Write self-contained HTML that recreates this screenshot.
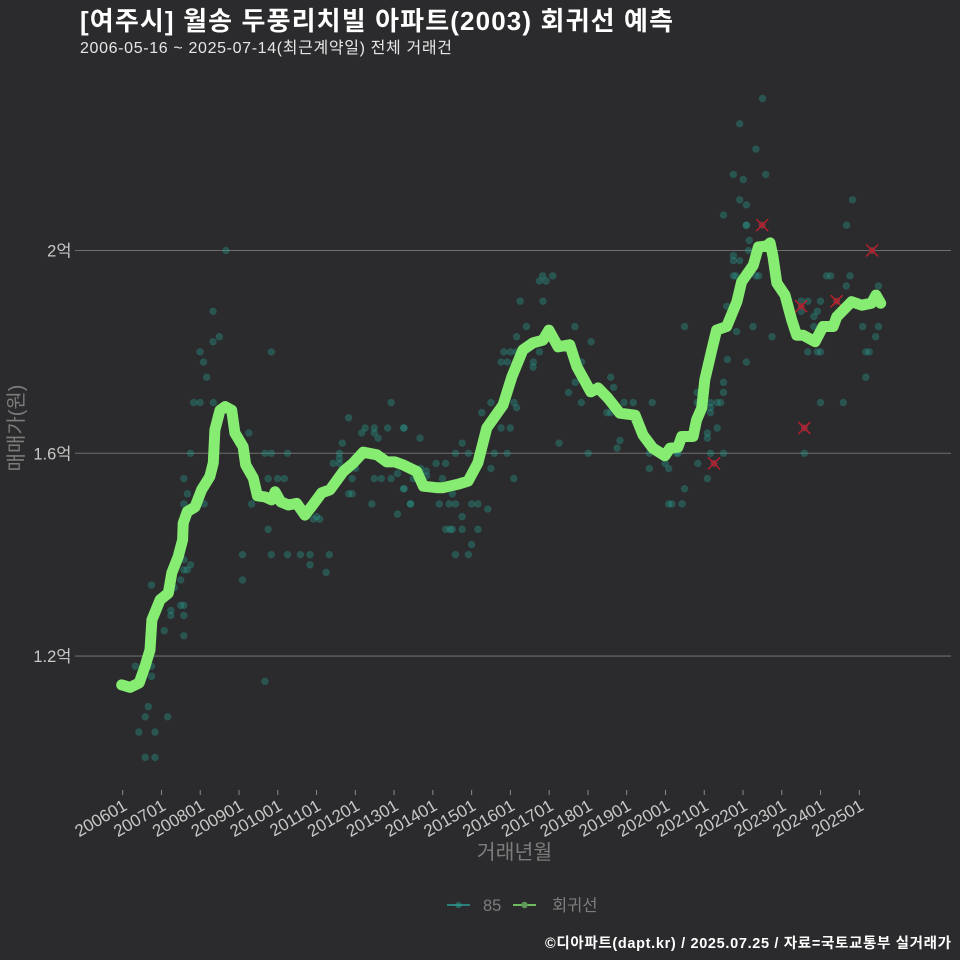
<!DOCTYPE html>
<html lang="ko">
<head>
<meta charset="utf-8">
<title>월송 두풍리치빌 아파트 회귀선 예측</title>
<style>
html,body{margin:0;padding:0;background:#2b2b2d;}
svg{display:block;}
text{font-family:"Liberation Sans","Noto Sans CJK KR",sans-serif;}
</style>
</head>
<body>
<svg id="chart" xmlns="http://www.w3.org/2000/svg" width="960" height="960" viewBox="0 0 960 960">
<rect x="0" y="0" width="960" height="960" fill="#2b2b2d"/>
<g id="grid"></g>
<g id="yticks"></g>
<g id="xticks"></g>
<g id="points"></g>
<g id="outliers"></g>
<path id="regline" fill="none" stroke="#86ec72" stroke-width="11" stroke-linejoin="round" stroke-linecap="round"/>
<text x="80" y="30" font-size="26" font-weight="700" fill="#ffffff" textLength="593" lengthAdjust="spacing">[여주시] 월송 두풍리치빌 아파트(2003) 회귀선 예측</text>
<text x="80" y="53" font-size="16" fill="#e6e6e6" textLength="372" lengthAdjust="spacing">2006-05-16 ~ 2025-07-14(최근계약일) 전체 거래건</text>
<text transform="translate(23,428) rotate(-90)" text-anchor="middle" font-size="20" fill="#7c7c7c">매매가(원)</text>
<text x="514.5" y="859" text-anchor="middle" font-size="20.5" fill="#7c7c7c">거래년월</text>
<g>
<line x1="447" y1="905" x2="470" y2="905" stroke="#2a9d97" stroke-width="1.6"/>
<circle cx="458.5" cy="905" r="3.2" fill="#2a9d8f" fill-opacity="0.5"/>
<text x="483" y="911" font-size="16.5" fill="#7c7c7c">85</text>
<line x1="513" y1="905" x2="536" y2="905" stroke="#86ec72" stroke-width="1.6"/>
<circle cx="524.5" cy="905" r="3.2" fill="#5f9a5a"/>
<text x="552" y="911" font-size="16.5" fill="#7c7c7c">회귀선</text>
</g>
<text x="545" y="948" font-size="14.5" font-weight="700" fill="#ffffff" textLength="406" lengthAdjust="spacing">©디아파트(dapt.kr) / 2025.07.25 / 자료=국토교통부 실거래가</text>
</svg>
<script>
const tickLabels = ['200601','200701','200801','200901','201001','201101','201201','201301','201401','201501','201601','201701','201801','201901','202001','202101','202201','202301','202401','202501'];
const yTickValues = [2, 1.6, 1.2];
const yTickLabels = ['2억', '1.6억', '1.2억'];

const lineMonths = [-0.3,2.3,5.2,7.0,8.6,9.2,11.8,14.4,15.5,17.5,18.9,19.1,20.4,22.8,24.9,27.5,28.6,29.1,30.7,32.3,34.4,35.4,38.0,38.8,41.2,42.5,44.9,47.0,48.1,49.9,52.3,54.9,57.5,59.6,62.8,65.4,69.6,72.8,75.9,80.2,83.3,85.9,88.5,92.8,94.9,99.1,101.1,105.8,109.0,112.1,114.9,120.0,122.8,126.3,129.5,132.6,134.5,137.4,141.1,143.3,147.7,150.0,153.1,156.9,161.7,164.2,167.3,171.1,172.7,175.2,176.4,180.0,181.1,182.7,183.7,185.9,187.4,190.6,193.8,195.3,199.0,200.6,203.2,204.3,205.2,206.4,209.0,211.1,212.7,214.7,218.5,221.0,224.2,225.3,230.0,233.2,236.3,237.7,239.2];
const linePrices = [1.143,1.138,1.147,1.179,1.212,1.271,1.311,1.324,1.364,1.396,1.429,1.462,1.485,1.494,1.528,1.554,1.581,1.646,1.685,1.692,1.685,1.640,1.613,1.577,1.551,1.516,1.514,1.508,1.524,1.504,1.498,1.501,1.478,1.495,1.522,1.528,1.564,1.581,1.602,1.597,1.583,1.583,1.577,1.564,1.535,1.532,1.532,1.539,1.545,1.581,1.650,1.695,1.751,1.804,1.818,1.823,1.843,1.810,1.814,1.771,1.721,1.729,1.709,1.679,1.675,1.636,1.610,1.595,1.610,1.612,1.633,1.633,1.666,1.689,1.745,1.804,1.843,1.850,1.899,1.938,1.971,2.007,2.009,2.015,1.988,1.936,1.912,1.863,1.833,1.833,1.820,1.850,1.850,1.869,1.899,1.892,1.896,1.912,1.896];

const pointMonths = [4.0,9.1,9.1,8.1,7.1,14.2,5.1,10.2,7.1,10.2,13.1,19.3,15.2,15.2,19.3,18.3,19.3,18.3,16.3,9.1,19.3,20.4,21.4,19.3,19.3,20.4,19.3,25.7,21.4,22.4,24.4,28.6,39.8,44.9,46.9,52.0,45.9,48.9,51.0,40.7,45.9,37.8,46.9,52.0,56.1,59.1,65.2,59.1,64.2,37.8,44.9,60.2,61.2,62.2,84.7,71.3,76.5,75.4,79.4,79.4,80.6,83.6,88.6,69.3,68.4,68.4,66.4,68.4,73.5,72.4,79.4,81.6,84.7,86.7,88.6,71.3,72.4,78.6,90.8,86.7,92.8,28.5,30.5,28.5,24.4,25.5,26.5,46.9,32.6,132.5,131.5,133.6,135.7,125.4,132.6,127.4,124.3,120.3,122.4,124.3,131.5,119.4,121.4,129.6,129.5,142.7,147.8,144.8,154.0,154.9,142.8,140.7,144.7,123.5,124.3,116.2,113.3,119.4,122.3,88.8,93.8,107.1,137.7,105.0,109.1,117.3,121.3,146.9,98.9,101.9,116.2,123.4,94.0,95.8,91.7,95.9,100.9,88.8,104.0,90.8,99.9,103.0,105.0,110.1,112.1,115.2,107.1,101.9,103.3,104.0,107.1,112.1,110.1,105.0,109.1,152.8,154.0,158.2,161.1,167.1,156.9,156.0,166.2,166.2,172.3,171.2,177.3,172.3,173.3,176.5,177.3,174.8,201.9,194.7,199.8,192.7,202.9,195.8,194.7,196.8,189.6,196.8,196.8,197.7,197.5,192.7,192.7,194.7,192.7,193.5,199.8,200.7,190.6,193.7,198.9,204.9,190.8,196.8,189.6,189.6,181.3,181.3,185.5,187.6,188.7,185.5,185.5,187.6,184.5,184.5,185.5,189.6,175.3,181.5,184.5,230.3,228.4,222.1,223.4,229.5,228.3,238.5,214.1,216.2,220.2,214.1,219.2,218.1,218.1,233.5,238.5,237.6,216.2,219.2,220.2,234.5,235.6,234.5,220.2,227.4,215.1];
const pointPrices = [1.18,1.18,1.16,1.10,1.08,1.08,1.05,1.05,1.00,1.00,1.25,1.24,1.29,1.28,1.28,1.30,1.30,1.35,1.335,1.34,1.37,1.37,1.38,1.39,1.50,1.52,1.55,1.50,1.60,1.70,1.70,1.70,1.64,1.60,1.60,1.60,1.55,1.55,1.55,1.50,1.45,1.40,1.40,1.40,1.40,1.40,1.40,1.38,1.365,1.35,1.15,1.47,1.475,1.47,1.70,1.67,1.65,1.64,1.65,1.64,1.63,1.65,1.65,1.62,1.60,1.59,1.58,1.58,1.57,1.55,1.55,1.55,1.55,1.56,1.53,1.52,1.52,1.50,1.50,1.48,1.55,1.88,1.83,1.82,1.80,1.78,1.75,1.80,2.00,1.95,1.94,1.94,1.95,1.90,1.90,1.85,1.83,1.80,1.80,1.80,1.80,1.78,1.78,1.78,1.77,1.85,1.82,1.78,1.75,1.73,1.74,1.72,1.70,1.70,1.69,1.70,1.68,1.65,1.65,1.65,1.63,1.62,1.62,1.60,1.60,1.60,1.60,1.60,1.58,1.58,1.57,1.55,1.57,1.565,1.55,1.555,1.55,1.53,1.52,1.50,1.50,1.50,1.50,1.50,1.50,1.49,1.475,1.45,1.45,1.45,1.45,1.45,1.42,1.40,1.40,1.68,1.68,1.70,1.70,1.70,1.625,1.61,1.60,1.57,1.57,1.58,1.53,1.50,1.50,1.50,1.85,1.60,2.30,2.25,2.20,2.15,2.15,2.14,2.10,2.09,2.07,2.05,2.05,2.02,2.00,1.99,1.98,1.98,1.95,1.95,1.95,1.95,1.89,1.84,1.85,1.83,1.785,1.78,1.74,1.72,1.72,1.70,1.70,1.70,1.70,1.69,1.68,1.65,1.64,1.63,1.60,1.60,1.60,1.58,1.55,2.10,2.05,1.95,1.95,1.95,1.93,1.93,1.90,1.90,1.90,1.88,1.88,1.87,1.85,1.85,1.85,1.83,1.80,1.80,1.80,1.80,1.80,1.75,1.70,1.70,1.60];

const outlierMonths = [201.8,236.5,214.1,225.3,215.1,186.6];
const outlierPrices = [2.05,2.00,1.89,1.90,1.65,1.58];

const NS = 'http://www.w3.org/2000/svg';
const unitsPerTick = 12.234;
function xScale(month) { return 122.7 + month * 3.169; }
function yScale(price) { return 250.5 + (2 - price) * 506.9; }
function make(tag, parent, attrs) {
  const el = document.createElementNS(NS, tag);
  for (const k in attrs) el.setAttribute(k, attrs[k]);
  parent.appendChild(el);
  return el;
}

const gridG = document.getElementById('grid');
const yG = document.getElementById('yticks');
yTickValues.forEach(function (v, i) {
  const y = yScale(v);
  const gl = make('line', gridG, {x1: 75, x2: 951, y1: y, y2: y, stroke: '#6e6e6e', 'stroke-width': 1.1});
  
  
  const t = make('text', yG, {x: 71.5, y: y + 6, 'text-anchor': 'end', 'font-size': 16.5, fill: '#c8c8c8'});
  t.textContent = yTickLabels[i];
  
  
});

const xG = document.getElementById('xticks');
tickLabels.forEach(function (label, i) {
  const x = xScale(i * unitsPerTick);
  const tk = make('line', xG, {x1: x, x2: x, y1: 790, y2: 795, stroke: '#8a8a8a', 'stroke-width': 1});
  
  
  const t = make('text', xG, {'text-anchor': 'end', 'font-size': 17, fill: '#c8c8c8', transform: 'translate(' + (x + 5.5) + ',809) rotate(-30)'});
  t.textContent = label;
  
  
});

const ptG = document.getElementById('points');
pointMonths.forEach(function (m, i) {
  const c = make('circle', ptG, {cx: xScale(m), cy: yScale(pointPrices[i]), r: 3.4, fill: '#2a9d8f', 'fill-opacity': 0.36, stroke: '#2a9d8f', 'stroke-opacity': 0.22, 'stroke-width': 0.8});
  
  
});

const outG = document.getElementById('outliers');
outlierMonths.forEach(function (m, i) {
  const x = xScale(m);
  const y = yScale(outlierPrices[i]);
  const c = make('circle', outG, {cx: x, cy: y, r: 3.4, fill: '#7d3540'});
  
  
  const p = make('path', outG, {d: 'M' + (x - 6) + ' ' + (y - 6) + 'L' + (x + 6) + ' ' + (y + 6) + 'M' + (x - 6) + ' ' + (y + 6) + 'L' + (x + 6) + ' ' + (y - 6), stroke: '#b5202c', 'stroke-width': 1.5, fill: 'none'});
  
  
});

document.getElementById('regline').setAttribute('d', lineMonths.map(function (m, i) {
  return (i ? 'L' : 'M') + xScale(m).toFixed(1) + ' ' + yScale(linePrices[i]).toFixed(1);
}).join(''));
</script>
</body>
</html>
